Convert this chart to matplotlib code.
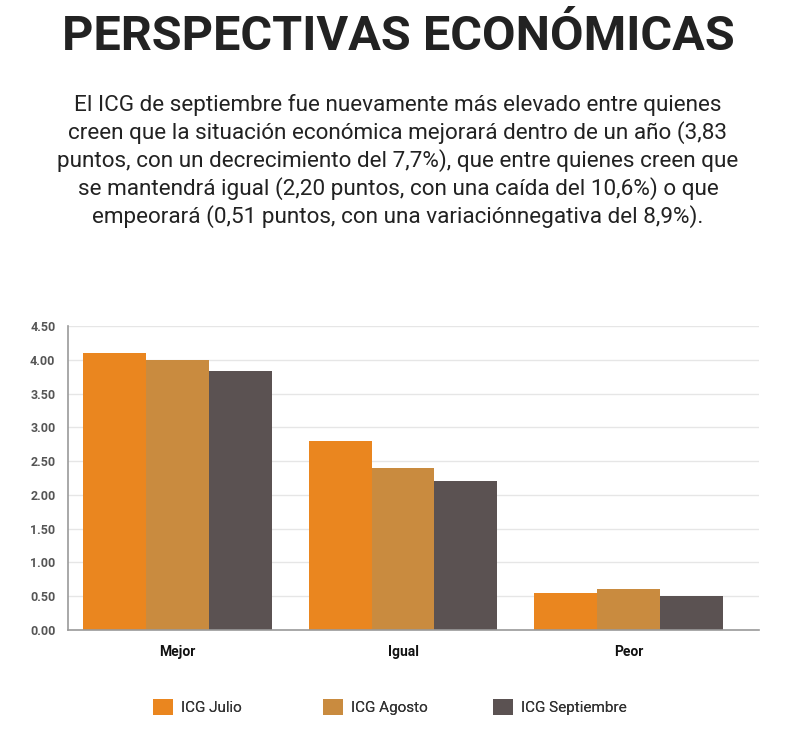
import matplotlib
matplotlib.use("Agg")
import matplotlib.pyplot as plt
import numpy as np

categories = ["Mejor", "Igual", "Peor"]
series_names = ["ICG Julio", "ICG Agosto", "ICG Septiembre"]
julio = [4.10, 2.80, 0.55]
agosto = [4.00, 2.40, 0.60]
septiembre = [3.83, 2.20, 0.51]
yticks = [0.0, 0.5, 1.0, 1.5, 2.0, 2.5, 3.0, 3.5, 4.0, 4.5]
colors = ["#EA861F", "#C98B3F", "#5B5252"]

title = "PERSPECTIVAS ECONÓMICAS"
subtitle = ("El ICG de septiembre fue nuevamente más elevado entre quienes\n"
            "creen que la situación económica mejorará dentro de un año (3,83\n"
            "puntos, con un decrecimiento del 7,7%), que entre quienes creen que\n"
            "se mantendrá igual (2,20 puntos, con una caída del 10,6%) o que\n"
            "empeorará (0,51 puntos, con una variaciónnegativa del 8,9%).")

plt.rcParams['font.family'] = ['Roboto', 'DejaVu Sans']

fig = plt.figure(figsize=(8.12, 7.51), dpi=100)
fig.patch.set_facecolor("white")
ax = fig.add_axes([0.0837, 0.1611, 0.851, 0.4048])

x = np.arange(len(categories))
w = 0.279
for i, (vals, c) in enumerate(zip([julio, agosto, septiembre], colors)):
    ax.bar(x + (i - 1) * w, vals, width=w, color=c, label=series_names[i], zorder=3)

ax.set_xlim(-0.486, 2.579)
ax.set_ylim(0, 4.5)
ax.set_yticks(yticks)
ax.set_yticklabels([f"{v:.2f}" for v in yticks], fontsize=9, fontweight="bold", color="#555555")
ax.set_xticks(x)
ax.set_xticklabels(categories, fontsize=10, fontweight="bold", color="#111111")
ax.tick_params(axis="both", length=0)
ax.tick_params(axis="x", pad=11)
ax.tick_params(axis="y", pad=9)
ax.grid(axis="y", color="#e6e6e6", linewidth=1, zorder=0)
for s in ["top", "right"]:
    ax.spines[s].set_visible(False)
for s in ["left", "bottom"]:
    ax.spines[s].set_color("#9a9a9a")
    ax.spines[s].set_linewidth(1.2)
    ax.spines[s].set_zorder(4)

fig.text(398/812, 1 - 37/751, title, ha="center", va="center", fontsize=35,
         fontweight="bold", color="#222222")
fig.text(398/812, 1 - 161/751, subtitle, ha="center", va="center", fontsize=16.2,
         color="#222222", linespacing=1.27)

handles, labels = ax.get_legend_handles_labels()
left_px = [153, 323, 493]
for h, l, lx in zip(handles, labels, left_px):
    leg = fig.legend([h], [l], loc="center left", bbox_to_anchor=(lx/812, 1 - 707/751),
                     frameon=False, fontsize=11, handlelength=1.3, handleheight=1.3,
                     handletextpad=0.55, borderaxespad=0, borderpad=0,
                     labelcolor="#333333")
    fig.add_artist(leg)

fig.savefig("out.png", dpi=100, facecolor="white")
